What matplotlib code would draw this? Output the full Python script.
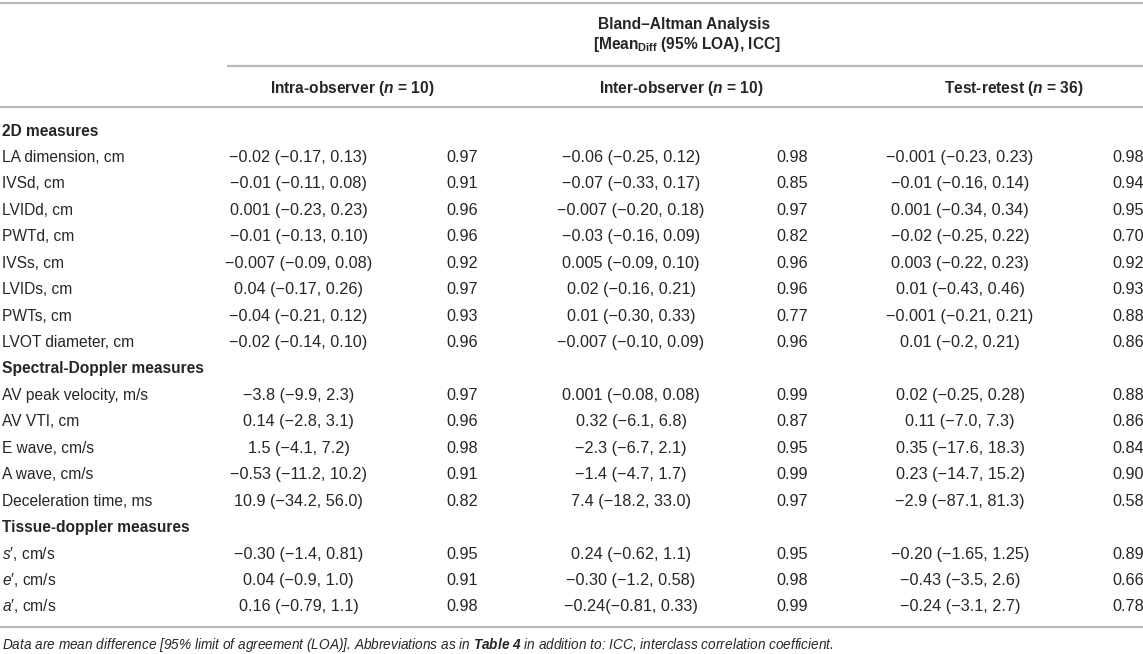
import matplotlib
matplotlib.use("Agg")
import matplotlib.pyplot as plt

# ---------------- data ----------------
section_titles = ["2D measures", "Spectral-Doppler measures", "Tissue-doppler measures"]
section_sizes = [8, 5, 3]

row_labels = ["LA dimension, cm", "IVSd, cm", "LVIDd, cm", "PWTd, cm", "IVSs, cm",
              "LVIDs, cm", "PWTs, cm", "LVOT diameter, cm",
              "AV peak velocity, m/s", "AV VTI, cm", "E wave, cm/s", "A wave, cm/s",
              "Deceleration time, ms",
              r"$\mathit{s}$′, cm/s", r"$\mathit{e}$′, cm/s", r"$\mathit{a}$′, cm/s"]

intra_diff = ["−0.02 (−0.17, 0.13)", "−0.01 (−0.11, 0.08)", "0.001 (−0.23, 0.23)",
              "−0.01 (−0.13, 0.10)", "−0.007 (−0.09, 0.08)", "0.04 (−0.17, 0.26)",
              "−0.04 (−0.21, 0.12)", "−0.02 (−0.14, 0.10)", "−3.8 (−9.9, 2.3)",
              "0.14 (−2.8, 3.1)", "1.5 (−4.1, 7.2)", "−0.53 (−11.2, 10.2)",
              "10.9 (−34.2, 56.0)", "−0.30 (−1.4, 0.81)", "0.04 (−0.9, 1.0)",
              "0.16 (−0.79, 1.1)"]
intra_icc = ["0.97", "0.91", "0.96", "0.96", "0.92", "0.97", "0.93", "0.96",
             "0.97", "0.96", "0.98", "0.91", "0.82", "0.95", "0.91", "0.98"]

inter_diff = ["−0.06 (−0.25, 0.12)", "−0.07 (−0.33, 0.17)", "−0.007 (−0.20, 0.18)",
              "−0.03 (−0.16, 0.09)", "0.005 (−0.09, 0.10)", "0.02 (−0.16, 0.21)",
              "0.01 (−0.30, 0.33)", "−0.007 (−0.10, 0.09)", "0.001 (−0.08, 0.08)",
              "0.32 (−6.1, 6.8)", "−2.3 (−6.7, 2.1)", "−1.4 (−4.7, 1.7)",
              "7.4 (−18.2, 33.0)", "0.24 (−0.62, 1.1)", "−0.30 (−1.2, 0.58)",
              "−0.24(−0.81, 0.33)"]
inter_icc = ["0.98", "0.85", "0.97", "0.82", "0.96", "0.96", "0.77", "0.96",
             "0.99", "0.87", "0.95", "0.99", "0.97", "0.95", "0.98", "0.99"]

test_diff = ["−0.001 (−0.23, 0.23)", "−0.01 (−0.16, 0.14)", "0.001 (−0.34, 0.34)",
             "−0.02 (−0.25, 0.22)", "0.003 (−0.22, 0.23)", "0.01 (−0.43, 0.46)",
             "−0.001 (−0.21, 0.21)", "0.01 (−0.2, 0.21)", "0.02 (−0.25, 0.28)",
             "0.11 (−7.0, 7.3)", "0.35 (−17.6, 18.3)", "0.23 (−14.7, 15.2)",
             "−2.9 (−87.1, 81.3)", "−0.20 (−1.65, 1.25)", "−0.43 (−3.5, 2.6)",
             "−0.24 (−3.1, 2.7)"]
test_icc = ["0.98", "0.94", "0.95", "0.70", "0.92", "0.93", "0.88", "0.86",
            "0.88", "0.86", "0.84", "0.90", "0.58", "0.89", "0.66", "0.78"]

group_title = "Bland–Altman Analysis"
group_subtitle = r"[Mean$_{\mathbf{Diff}}$ (95% LOA), ICC]"
column_headers = [r"Intra-observer ($\mathbfit{n}$ = 10)",
                  r"Inter-observer ($\mathbfit{n}$ = 10)",
                  r"Test-retest ($\mathbfit{n}$ = 36)"]
footnote = (r"Data are mean difference [95% limit of agreement (LOA)]. Abbreviations as in "
            r"$\mathbfit{Table\ 4}$ in addition to: ICC, interclass correlation coefficient.")

# ---------------- style ----------------
plt.rcParams["font.family"] = ["Liberation Sans", "DejaVu Sans"]
plt.rcParams["mathtext.fontset"] = "custom"
plt.rcParams["mathtext.rm"] = "Liberation Sans"
plt.rcParams["mathtext.it"] = "Liberation Sans:italic"
plt.rcParams["mathtext.bf"] = "Liberation Sans:bold"
plt.rcParams["mathtext.bfit"] = "Liberation Sans:italic:bold"

W, H = 1143, 654
TXT = "#262626"
LINE = "#b8b8b8"
FS = 11.2
FS_DATA = 11.7

fig = plt.figure(figsize=(W / 100, H / 100), dpi=100)
ax = fig.add_axes([0, 0, 1, 1])
ax.set_xlim(0, W)
ax.set_ylim(H, 0)
ax.axis("off")

# rules
ax.hlines([3.3, 107.3, 627], 0, W, color=LINE, lw=1.6)
ax.hlines(66, 227, W, color=LINE, lw=1.6)

# header
BO = 5.5  # baseline offset from visual centre
ax.text(684, 23 + BO, group_title, ha="center", va="baseline", fontsize=FS,
        fontweight="bold", color=TXT)
ax.text(687, 43.3 + BO, group_subtitle, ha="center", va="baseline", fontsize=FS,
        fontweight="bold", color=TXT)
for xc, h in zip([352.5, 681, 1014], column_headers):
    ax.text(xc, 87.3 + BO, h, ha="center", va="baseline", fontsize=FS,
            fontweight="bold", color=TXT)

# body
col_x = [298.5, 462.5, 631, 792.5, 960, 1128.5]
cols = [intra_diff, intra_icc, inter_diff, inter_icc, test_diff, test_icc]
y0, dy = 130, 26.44
line_i = 0
r = 0
for title, n in zip(section_titles, section_sizes):
    yc = y0 + dy * line_i
    ax.text(2, yc + BO, title, ha="left", va="baseline", fontsize=FS,
            fontweight="bold", color=TXT)
    line_i += 1
    for _ in range(n):
        yc = y0 + dy * line_i
        ax.text(2, yc + BO, row_labels[r], ha="left", va="baseline", fontsize=FS,
                color=TXT)
        for xc, col in zip(col_x, cols):
            ax.text(xc, yc + BO, col[r], ha="center", va="baseline", fontsize=FS_DATA,
                    color=TXT)
        r += 1
        line_i += 1

ax.text(2, 644 + 4.8, footnote, ha="left", va="baseline", fontsize=9.8,
        fontstyle="italic", color=TXT)

fig.savefig("out.png", dpi=100)
